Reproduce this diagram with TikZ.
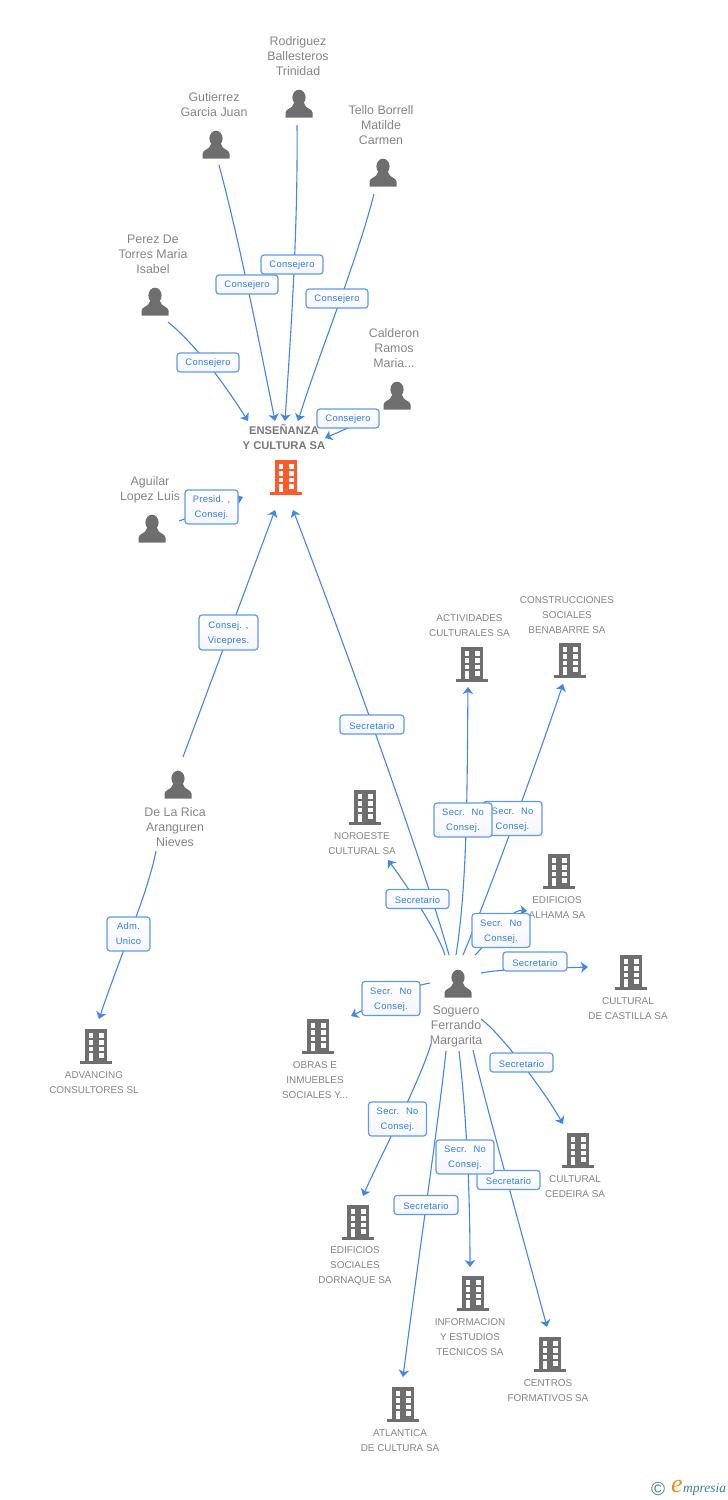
\documentclass[tikz,border=0pt]{standalone}
\usepackage{fontspec}
\setmainfont{Liberation Sans}
\newfontfamily\logofont{Liberation Serif}
\usetikzlibrary{arrows.meta,calc}
\definecolor{icongrey}{HTML}{6E6E6E}
\definecolor{namegrey}{HTML}{858585}
\definecolor{hubred}{HTML}{FF5A2B}
\definecolor{linkblue}{HTML}{4187E6}
\definecolor{boxblue}{HTML}{5E9BE9}
\definecolor{labblue}{HTML}{2F7FE0}
\definecolor{logoteal}{HTML}{3F7F99}
\definecolor{logoorange}{HTML}{F08A1E}
\tikzset{
  x=1pt,y=-1pt,
  iconspot/.style={inner sep=0pt,minimum width=27pt,minimum height=30pt},
  pname/.style={text=namegrey,align=center,inner sep=0pt,font=\fontsize{12.4}{15}\selectfont},
  cname/.style={text=namegrey,align=center,inner sep=0pt,font=\fontsize{9.9}{15}\selectfont},
  hubname/.style={text=namegrey!90!black,align=center,inner sep=0pt,font=\fontsize{11.2}{15}\selectfont\bfseries},
  conn/.style={draw=linkblue,line width=1.1pt},
  arr/.style={conn,-{Stealth[length=7pt,width=10.5pt,inset=2pt]}},
  lab/.style={draw=boxblue,line width=1.2pt,rounded corners=3pt,top color=white,bottom color=white!96!blue,
    text=labblue,align=center,inner sep=0pt,minimum width=62pt,minimum height=19pt,text depth=0pt,
    font=\fontsize{9.4}{15}\selectfont\addfontfeature{LetterSpace=3}},
  labtwo/.style={lab,minimum width=58pt,minimum height=34pt},
  labsec/.style={lab,text height=9pt},
  person/.pic={
    \fill[icongrey] (0,-6.5) ellipse [x radius=6.6,y radius=7.8];
    \fill[icongrey] (-13.5,13.5) -- (-13.5,8.5) .. controls (-13.5,4.5) and (-6,5) .. (-5,-1)
      -- (5,-1) .. controls (6,5) and (13.5,4.5) .. (13.5,8.5) -- (13.5,13.5) -- cycle;
  },
  building/.pic={
    \fill[pic actions] (-11,-17) rectangle (11,15);
    \fill[pic actions] (-16,15) rectangle (16,18);
    \fill[white] (-7.5,-12.7) rectangle (-2.8,-8.3);
    \fill[white] (2.5,-12.7) rectangle (7.5,-8.3);
    \fill[white] (-7.5,-5.7) rectangle (-2.8,-1.5);
    \fill[white] (2.5,-5.7) rectangle (7.5,-1.5);
    \fill[white] (-7.5,1) rectangle (-2.8,5);
    \fill[white] (2.5,1) rectangle (7.5,5);
    \fill[white] (-7.5,7.3) rectangle (-2.8,15);
    \fill[white] (2.5,7.3) rectangle (7.5,11.7);
  },
}
\begin{document}
\begin{tikzpicture}
\useasboundingbox (0,0) rectangle (728,1500);
% person spots
\node[iconspot] (rodriguez) at (299,104) {};
\node[iconspot] (gutierrez) at (216,145) {};
\node[iconspot] (tello) at (383,173) {};
\node[iconspot] (perez) at (155,302) {};
\node[iconspot] (calderon) at (397,396) {};
\node[iconspot] (aguilar) at (152,529) {};
\node[iconspot] (rica) at (178,785) {};
\node[iconspot] (soguero) at (458,984) {};
% company spots
\node[iconspot] (hub) at (286,477) {};
\node[iconspot] (actividades) at (472,664) {};
\node[iconspot] (construcciones) at (570,660) {};
\node[iconspot] (noroeste) at (365,807) {};
\node[iconspot] (alhama) at (559,871) {};
\node[iconspot] (castilla) at (631,972) {};
\node[iconspot] (obras) at (318,1036) {};
\node[iconspot] (cedeira) at (578,1150) {};
\node[iconspot] (dornaque) at (358,1222) {};
\node[iconspot] (informacion) at (473,1293) {};
\node[iconspot] (centros) at (550,1354) {};
\node[iconspot] (atlantica) at (403,1404) {};
\node[iconspot] (advancing) at (96,1046) {};
% icons
\foreach \p in {rodriguez,gutierrez,tello,perez,calderon,aguilar,rica,soguero}
  \pic at (\p) {person};
\foreach \c in {actividades,construcciones,noroeste,alhama,castilla,obras,cedeira,dornaque,informacion,centros,atlantica,advancing}
  \pic[fill=icongrey] at (\c) {building};
\pic[fill=hubred] at (hub) {building};
% names
\node[pname] (t-rodriguez) at (298,56) {Rodriguez\\Ballesteros\\Trinidad};
\node[pname] (t-gutierrez) at (214,104.5) {Gutierrez\\Garcia Juan};
\node[pname] (t-tello) at (381,125) {Tello Borrell\\Matilde\\Carmen};
\node[pname] (t-perez) at (153,254) {Perez De\\Torres Maria\\Isabel};
\node[pname] (t-calderon) at (394,348) {Calderon\\Ramos\\Maria...};
\node[pname] (t-aguilar) at (150,489.5) {Aguilar\\Lopez Luis};
\node[pname] (t-rica) at (175,827) {De La Rica\\Aranguren\\Nieves};
\node[pname] (t-soguero) at (456,1026) {Soguero\\Ferrando\\Margarita};
\node[hubname] (t-hub) at (284,437.5) {ENSEÑANZA\\Y CULTURA SA};
\node[cname] (t-actividades) at (469.5,625.5) {ACTIVIDADES\\CULTURALES SA};
\node[cname] (t-construcciones) at (567,615) {CONSTRUCCIONES\\SOCIALES\\BENABARRE SA};
\node[cname] (t-noroeste) at (362,843.5) {NOROESTE\\CULTURAL SA};
\node[cname] (t-alhama) at (557,907.5) {EDIFICIOS\\ALHAMA SA};
\node[cname] (t-castilla) at (628,1008.5) {CULTURAL\\DE CASTILLA SA};
\node[cname] (t-obras) at (315,1080) {OBRAS E\\INMUEBLES\\SOCIALES Y...};
\node[cname] (t-cedeira) at (575,1186.5) {CULTURAL\\CEDEIRA SA};
\node[cname] (t-dornaque) at (355,1266) {EDIFICIOS\\SOCIALES\\DORNAQUE SA};
\node[cname] (t-informacion) at (470,1337) {INFORMACION\\Y ESTUDIOS\\TECNICOS SA};
\node[cname] (t-centros) at (548,1390.5) {CENTROS\\FORMATIVOS SA};
\node[cname] (t-atlantica) at (400,1440.5) {ATLANTICA\\DE CULTURA SA};
\node[cname] (t-advancing) at (94,1082.5) {ADVANCING\\CONSULTORES SL};
% connectors (first control is relative to the start, second to the end)
\draw[arr] ($(rodriguez)+(-2,21)$) .. controls +(1,105) and +(6,-90) .. ($(hub)+(-1,-56)$);
\draw[arr] ($(gutierrez)+(3,20)$) .. controls +(20,75) and +(-18,-90) .. ($(hub)+(-11,-56)$);
\draw[arr] ($(tello)+(-9,21)$) .. controls +(-18,70) and +(22,-70) .. ($(hub)+(12,-56)$);
\draw[arr] ($(perez)+(13,20)$) .. controls +(22,18) and +(-32,-50) .. ($(hub)+(-38,-56)$);
\draw[arr] ($(calderon)+(-19,19)$) -- ($(hub)+(39,-39)$);
\draw[arr] ($(aguilar)+(27,-8)$) -- ($(hub)+(-43,20)$);
\draw[arr] ($(rica)+(5,-28)$) -- ($(hub)+(-11,33)$);
\draw[arr] ($(rica)+(-22,66)$) .. controls +(-8,42) and +(20,-60) .. ($(advancing)+(3,-27)$);
\draw[arr] ($(soguero)+(-9,-29)$) .. controls +(-25,-90) and +(50,130) .. ($(hub)+(7,33)$);
\draw[arr] ($(soguero)+(-13,-29)$) .. controls +(-8,-25) and +(15,20) .. ($(noroeste)+(23,53)$);
\draw[arr] ($(soguero)+(-2,-29)$) .. controls +(12,-75) and +(-1,90) .. ($(actividades)+(-4,23)$);
\draw[arr] ($(soguero)+(5,-29)$) .. controls +(15,-35) and +(-30,90) .. ($(construcciones)+(-7,24)$);
\draw[arr] ($(soguero)+(17,-29)$) .. controls +(15,-14) and +(-18,-2) .. ($(alhama)+(-32,40)$);
\draw[arr] ($(soguero)+(23,-11)$) .. controls +(25,-5) and +(-25,1) .. ($(castilla)+(-43,-5)$);
\draw[arr] ($(soguero)+(-28,-1)$) .. controls +(-25,4) and +(15,-7) .. ($(obras)+(33,-20)$);
\draw[arr] ($(soguero)+(23,35)$) .. controls +(20,15) and +(-20,-35) .. ($(cedeira)+(-15,-26)$);
\draw[arr] ($(soguero)+(-27,60)$) .. controls +(-12,40) and +(15,-35) .. ($(dornaque)+(5,-26)$);
\draw[arr] ($(soguero)+(1,67)$) .. controls +(8,70) and +(0,-70) .. ($(informacion)+(-3,-26)$);
\draw[arr] ($(soguero)+(15,66)$) .. controls +(10,45) and +(-20,-75) .. ($(centros)+(-3,-27)$);
\draw[arr] ($(soguero)+(-12,67)$) .. controls +(-6,60) and +(10,-80) .. ($(atlantica)+(0,-27)$);
% labels
\node[lab] (l-tello) at (337,298.5) {Consejero};
\node[lab] (l-gutierrez) at (247,284.5) {Consejero};
\node[lab] (l-rodriguez) at (292,264.5) {Consejero};
\node[lab] (l-perez) at (208,362.5) {Consejero};
\node[lab] (l-calderon) at (348,418.5) {Consejero};
\node[labtwo,minimum width=53pt] (l-aguilar) at (211.5,507) {Presid. ,\\Consej.};
\node[labtwo,minimum width=59pt,minimum height=35pt] (l-rica) at (228.5,632.5) {Consej. ,\\Vicepres.};
\node[labtwo,minimum width=43pt] (l-adv) at (128.5,934) {Adm.\\Unico};
\node[labsec,minimum width=64pt] (l-hub) at (372,724.5) {Secretario};
\node[labtwo,minimum width=59pt] (l-constr) at (512.5,818.5) {Secr.~ No\\Consej.};
\node[labtwo] (l-activ) at (463,820) {Secr.~ No\\Consej.};
\node[labsec,minimum width=63pt] (l-noroeste) at (417.5,899) {Secretario};
\node[labtwo] (l-alhama) at (501,930.5) {Secr.~ No\\Consej.};
\node[labsec,minimum width=64pt] (l-castilla) at (535,961.5) {Secretario};
\node[labtwo] (l-obras) at (391,998.5) {Secr.~ No\\Consej.};
\node[labsec,minimum width=63pt] (l-cedeira) at (521.5,1062.5) {Secretario};
\node[labtwo] (l-dornaque) at (397.5,1119) {Secr.~ No\\Consej.};
\node[labsec,minimum width=63pt] (l-centros) at (508.5,1180) {Secretario};
\node[labtwo] (l-informacion) at (465,1157) {Secr.~ No\\Consej.};
\node[labsec,minimum width=64pt] (l-atlantica) at (426,1205) {Secretario};
% logo
\node[text=logoteal,inner sep=0pt,font=\fontsize{19}{19}\selectfont] (logo-c) at (658,1489) {©};
\node[text=logoorange,inner sep=0pt,font=\logofont\fontsize{26}{26}\selectfont\itshape] (logo-e) at (677,1486) {e};
\node[text=logoteal,inner sep=0pt,anchor=west,font=\logofont\fontsize{13.5}{13}\selectfont\itshape] (logo-m) at (683,1489) {mpresia};
\end{tikzpicture}
\end{document}
